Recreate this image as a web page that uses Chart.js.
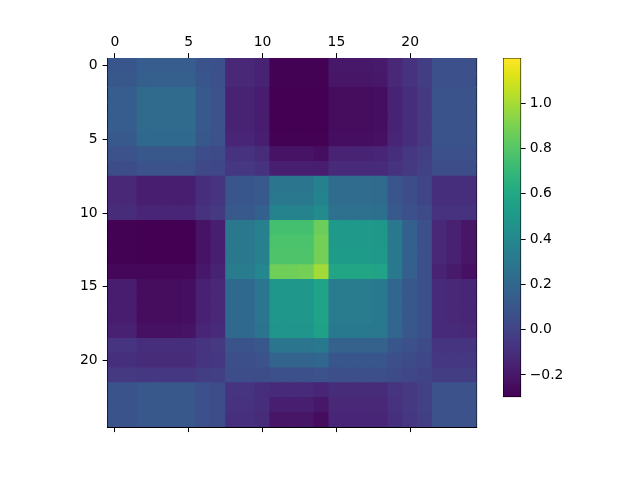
<!DOCTYPE html>
<html><head><meta charset="utf-8">
<script src="https://cdn.jsdelivr.net/npm/chart.js@4.4.1/dist/chart.umd.min.js"></script>
<style>
html,body{margin:0;padding:0;background:#fff;}
.wrap{position:relative;width:640px;height:480px;}
canvas{position:absolute;left:0;top:0;}
</style>
</head><body>
<div class="wrap"><canvas id="hm" width="640" height="480"></canvas><canvas id="cb" width="640" height="480"></canvas></div>
<script>
// ---- data ----
const row0  = [0.10,0.10,0.14,0.14,0.14,0.14,0.09,0.07,-0.13,-0.13,-0.15,-0.29,-0.29,-0.29,-0.29,-0.20,-0.20,-0.20,-0.19,-0.13,-0.08,-0.03,0.07,0.07,0.07];
const row1  = [0.11,0.11,0.15,0.15,0.15,0.15,0.10,0.07,-0.13,-0.13,-0.15,-0.29,-0.29,-0.29,-0.29,-0.21,-0.21,-0.21,-0.20,-0.13,-0.08,-0.03,0.07,0.07,0.07];
const row2  = [0.14,0.14,0.22,0.22,0.22,0.22,0.12,0.08,-0.15,-0.15,-0.18,-0.296,-0.296,-0.296,-0.296,-0.25,-0.25,-0.25,-0.24,-0.15,-0.10,-0.05,0.09,0.09,0.09];
const row3  = [0.14,0.14,0.22,0.22,0.22,0.22,0.12,0.08,-0.15,-0.15,-0.18,-0.296,-0.296,-0.296,-0.296,-0.25,-0.25,-0.25,-0.24,-0.15,-0.10,-0.05,0.09,0.09,0.09];
const row4  = [0.14,0.14,0.22,0.22,0.22,0.22,0.12,0.08,-0.15,-0.15,-0.18,-0.296,-0.296,-0.296,-0.296,-0.25,-0.25,-0.25,-0.24,-0.15,-0.10,-0.05,0.09,0.09,0.09];
const row5  = [0.12,0.12,0.21,0.21,0.21,0.21,0.11,0.08,-0.14,-0.14,-0.17,-0.29,-0.29,-0.29,-0.29,-0.24,-0.24,-0.24,-0.23,-0.14,-0.10,-0.05,0.09,0.09,0.09];
const row6  = [0.08,0.08,0.11,0.11,0.11,0.11,0.05,0.04,-0.08,-0.08,-0.11,-0.22,-0.22,-0.22,-0.24,-0.15,-0.15,-0.15,-0.14,-0.10,-0.06,-0.02,0.07,0.07,0.07];
const row7  = [0.05,0.05,0.08,0.08,0.08,0.08,0.03,0.02,-0.06,-0.06,-0.08,-0.17,-0.17,-0.17,-0.18,-0.12,-0.12,-0.12,-0.12,-0.08,-0.05,-0.01,0.05,0.05,0.05];
const row8  = [-0.13,-0.13,-0.17,-0.17,-0.17,-0.17,-0.10,-0.07,0.10,0.10,0.12,0.29,0.29,0.29,0.36,0.23,0.23,0.23,0.22,0.10,0.05,0.01,-0.10,-0.10,-0.10];
const row9  = [-0.13,-0.13,-0.17,-0.17,-0.17,-0.17,-0.10,-0.07,0.10,0.10,0.12,0.30,0.30,0.30,0.37,0.23,0.23,0.23,0.22,0.10,0.05,0.01,-0.10,-0.10,-0.10];
const row10 = [-0.11,-0.11,-0.14,-0.14,-0.14,-0.14,-0.08,-0.05,0.12,0.12,0.16,0.37,0.37,0.37,0.41,0.26,0.26,0.26,0.25,0.12,0.07,0.04,-0.08,-0.08,-0.08];
const row11 = [-0.29,-0.29,-0.296,-0.296,-0.296,-0.296,-0.22,-0.17,0.30,0.30,0.35,0.75,0.75,0.75,0.86,0.51,0.51,0.51,0.50,0.30,0.16,0.07,-0.13,-0.16,-0.21];
const row12 = [-0.29,-0.29,-0.296,-0.296,-0.296,-0.296,-0.22,-0.17,0.30,0.30,0.35,0.77,0.77,0.77,0.88,0.51,0.51,0.51,0.50,0.30,0.16,0.07,-0.13,-0.16,-0.21];
const row13 = [-0.29,-0.29,-0.296,-0.296,-0.296,-0.296,-0.22,-0.17,0.30,0.30,0.35,0.78,0.78,0.78,0.88,0.52,0.52,0.52,0.51,0.30,0.16,0.07,-0.13,-0.16,-0.21];
const row14 = [-0.27,-0.27,-0.27,-0.27,-0.27,-0.27,-0.20,-0.15,0.33,0.33,0.39,0.87,0.87,0.88,0.99,0.58,0.58,0.58,0.57,0.31,0.15,0.07,-0.15,-0.19,-0.23];
const row15 = [-0.18,-0.18,-0.25,-0.25,-0.25,-0.24,-0.16,-0.13,0.21,0.21,0.29,0.49,0.49,0.49,0.57,0.32,0.32,0.32,0.31,0.20,0.11,0.07,-0.12,-0.13,-0.14];
const row16 = [-0.18,-0.18,-0.25,-0.25,-0.25,-0.24,-0.16,-0.13,0.21,0.21,0.29,0.49,0.49,0.49,0.57,0.32,0.32,0.32,0.31,0.20,0.11,0.07,-0.12,-0.13,-0.14];
const row17 = [-0.18,-0.18,-0.25,-0.25,-0.25,-0.24,-0.16,-0.13,0.21,0.21,0.29,0.49,0.49,0.49,0.57,0.32,0.32,0.32,0.31,0.20,0.11,0.07,-0.12,-0.13,-0.14];
const row18 = [-0.16,-0.16,-0.23,-0.23,-0.23,-0.22,-0.14,-0.12,0.21,0.21,0.28,0.48,0.48,0.48,0.55,0.31,0.31,0.31,0.30,0.19,0.11,0.07,-0.12,-0.12,-0.13];
const row19 = [-0.07,-0.07,-0.10,-0.10,-0.10,-0.10,-0.07,-0.05,0.09,0.09,0.11,0.29,0.29,0.29,0.31,0.17,0.17,0.17,0.17,0.10,0.07,0.04,-0.07,-0.07,-0.07];
const row20 = [-0.09,-0.09,-0.11,-0.11,-0.11,-0.11,-0.07,-0.06,0.06,0.06,0.08,0.18,0.18,0.18,0.20,0.10,0.10,0.10,0.10,0.06,0.04,0.02,-0.06,-0.06,-0.06];
const row21 = [-0.05,-0.05,-0.06,-0.06,-0.06,-0.06,-0.03,-0.02,0.05,0.05,0.05,0.07,0.07,0.07,0.08,0.06,0.06,0.06,0.06,0.04,0.02,0.00,-0.03,-0.03,-0.03];
const row22 = [0.09,0.09,0.11,0.11,0.11,0.11,0.07,0.05,-0.07,-0.07,-0.10,-0.12,-0.12,-0.12,-0.14,-0.11,-0.11,-0.11,-0.11,-0.07,-0.05,-0.01,0.08,0.08,0.08];
const row23 = [0.09,0.09,0.11,0.11,0.11,0.11,0.07,0.05,-0.08,-0.08,-0.10,-0.17,-0.17,-0.17,-0.20,-0.13,-0.13,-0.13,-0.13,-0.08,-0.05,-0.01,0.08,0.08,0.08];
const row24 = [0.09,0.09,0.11,0.11,0.11,0.11,0.07,0.05,-0.09,-0.09,-0.11,-0.21,-0.21,-0.21,-0.25,-0.14,-0.14,-0.14,-0.14,-0.09,-0.06,-0.02,0.08,0.08,0.08];
const matrixRows = [row0,row1,row2,row3,row4,row5,row6,row7,row8,row9,row10,row11,row12,row13,row14,row15,row16,row17,row18,row19,row20,row21,row22,row23,row24];

const xTickValues = [0, 5, 10, 15, 20];
const yTickValues = [0, 5, 10, 15, 20];
const colorbarTicks = [-0.2, 0.0, 0.2, 0.4, 0.6, 0.8, 1.0];
const colorMin = -0.296;
const colorMax = 1.199;

// ---- viridis colormap ----
const viridisStops = ['#440154','#471365','#482475','#463480','#414487','#3b528b','#355f8d','#2f6c8e','#2a788e','#25848e','#21918c','#1e9c89','#22a884','#2fb47c','#44bf70','#5ec962','#7ad151','#9bd93c','#bddf26','#dfe318','#fde725'];
function hexToRgb(h){return [parseInt(h.slice(1,3),16),parseInt(h.slice(3,5),16),parseInt(h.slice(5,7),16)];}
const viridisRgb = viridisStops.map(hexToRgb);
function viridis(t){
  t = Math.max(0, Math.min(1, t));
  const n = viridisRgb.length - 1;
  const p = t * n, i = Math.min(n - 1, Math.floor(p)), f = p - i;
  const a = viridisRgb[i], b = viridisRgb[i+1];
  return 'rgb(' + a.map((v,k)=>Math.round(v + (b[k]-v)*f)).join(',') + ')';
}
function colorFor(v){ return viridis((v - colorMin) / (colorMax - colorMin)); }

const nRows = matrixRows.length, nCols = row0.length;
const cells = [], cellColors = [];
matrixRows.forEach((r, i) => r.forEach((v, j) => {
  cells.push({x: j, y: [i - 0.5, i + 0.5], v: v});
  cellColors.push(colorFor(v));
}));

const FONT = {family: 'DejaVu Sans', size: 13.9};
const tickGrid = {drawOnChartArea: false, drawTicks: true, tickLength: 5, color: '#000', tickColor: '#000', offset: false};
const noGrid = {display: false, drawTicks: false, drawOnChartArea: false};
const blackBorder = {display: true, color: '#000', width: 1.1};
const fixed = (ticksArr) => (s) => { s.ticks = ticksArr.map(v => ({value: v})); };

new Chart(document.getElementById('hm'), {
  type: 'bar',
  data: {datasets: [{
    data: cells,
    backgroundColor: cellColors,
    borderWidth: 0,
    barPercentage: 1,
    categoryPercentage: 1,
    inflateAmount: 0.5,
    xAxisID: 'x', yAxisID: 'y'
  }]},
  options: {
    responsive: false, animation: false, devicePixelRatio: 1,
    layout: {padding: {left: 0, top: 0, right: 163.4, bottom: 0}},
    plugins: {legend: {display: false}, tooltip: {enabled: false}},
    scales: {
      x: {type: 'linear', position: 'top', min: -0.5, max: nCols - 0.5, offset: false,
          afterBuildTicks: fixed(xTickValues),
          afterFit: s => { s.height = 58.1; },
          grid: tickGrid, border: blackBorder,
          ticks: {font: FONT, color: '#000', padding: 2, maxRotation: 0, autoSkip: false}},
      xb: {type: 'linear', position: 'bottom', min: -0.5, max: nCols - 0.5, offset: false,
          afterBuildTicks: fixed(xTickValues),
          afterFit: s => { s.height = 480 - 427.1; },
          grid: tickGrid, border: blackBorder,
          ticks: {font: FONT, color: '#000', autoSkip: false, callback: () => ''}},
      y: {type: 'linear', position: 'left', reverse: true, min: -0.5, max: nRows - 0.5, offset: false,
          afterBuildTicks: fixed(yTickValues),
          afterFit: s => { s.width = 107.6; },
          grid: tickGrid, border: blackBorder,
          ticks: {font: FONT, color: '#000', padding: 5, autoSkip: false}},
      yr: {type: 'linear', position: 'right', min: -0.5, max: nRows - 0.5,
          afterFit: s => { s.width = 0; },
          grid: noGrid, border: blackBorder,
          ticks: {display: false}}
    }
  }
});

// ---- colorbar ----
function cbGradient(ctx){
  const chart = ctx.chart;
  if (!chart.chartArea) return colorFor(0);
  const ys = chart.scales.y;
  const top = ys.getPixelForValue(colorMax), bot = ys.getPixelForValue(colorMin);
  const g = chart.ctx.createLinearGradient(0, bot, 0, top);
  viridisStops.forEach((c, k) => g.addColorStop(k / (viridisStops.length - 1), c));
  return g;
}
new Chart(document.getElementById('cb'), {
  type: 'bar',
  data: {labels: ['cb'], datasets: [{
    data: [[colorMin, colorMax]],
    backgroundColor: cbGradient,
    borderWidth: 0,
    barPercentage: 1, categoryPercentage: 1, inflateAmount: 0,
    xAxisID: 'x', yAxisID: 'y'
  }]},
  options: {
    responsive: false, animation: false, devicePixelRatio: 1,
    layout: {padding: {left: 503.3, top: 58.3, right: 640 - 520.7 - 60, bottom: 480 - 396.7}},
    plugins: {legend: {display: false}, tooltip: {enabled: false}},
    scales: {
      x: {type: 'category', position: 'bottom', offset: true,
          afterFit: s => { s.height = 0; },
          grid: noGrid, border: blackBorder, ticks: {display: false}},
      xt: {type: 'category', position: 'top', offset: true,
          afterFit: s => { s.height = 0; },
          grid: noGrid, border: blackBorder, ticks: {display: false}},
      yl: {type: 'linear', position: 'left', min: colorMin, max: colorMax,
          afterFit: s => { s.width = 0; },
          grid: noGrid, border: blackBorder, ticks: {display: false}},
      y: {type: 'linear', position: 'right', min: colorMin, max: colorMax,
          afterBuildTicks: fixed(colorbarTicks),
          afterFit: s => { s.width = 60; },
          grid: tickGrid, border: blackBorder,
          ticks: {font: FONT, color: '#000', padding: 4,
                  callback: v => (v < 0 ? '\u2212' : '') + Math.abs(v).toFixed(1)}}
    }
  }
});
</script>
</body></html>
